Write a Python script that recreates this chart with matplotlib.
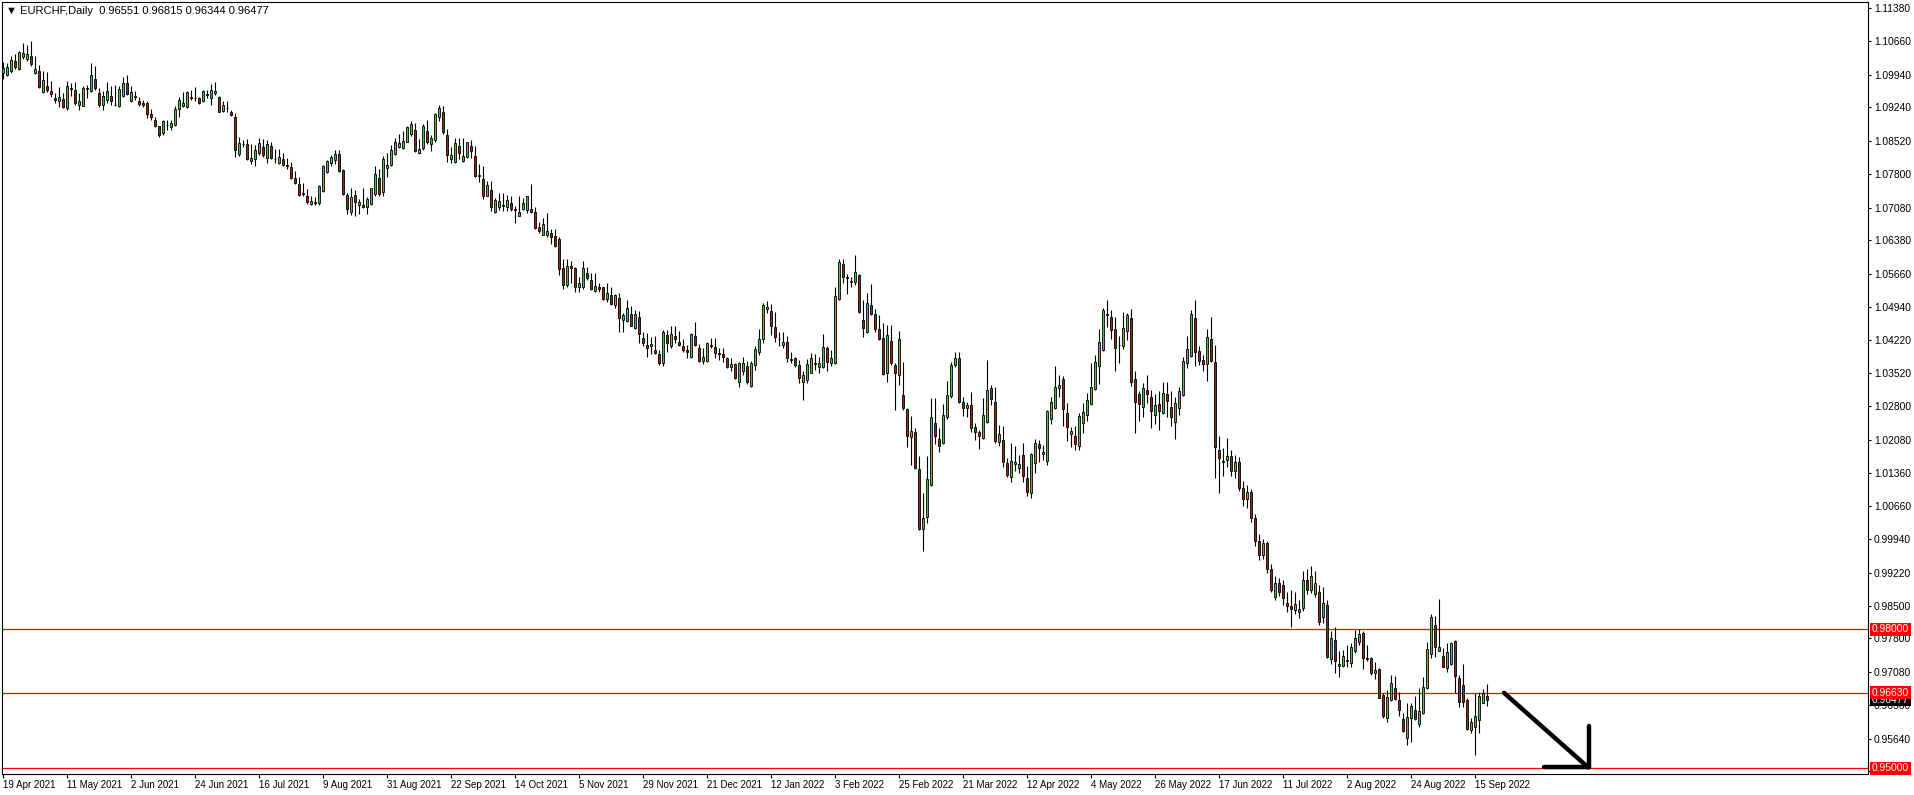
import numpy as np
import matplotlib.pyplot as plt
from matplotlib.transforms import blended_transform_factory

# EURCHF daily candles, 19 Apr 2021 .. 20 Sep 2022
opens = [
    1.0999, 1.0993, 1.1002, 1.1024, 1.1006, 1.1032, 1.1028, 1.1035, 1.0998, 1.1003,
    1.0957, 1.0970, 1.0960, 1.0945, 1.0937, 1.0942, 1.0922, 1.0963, 1.0961, 1.0930,
    1.0927, 1.0963, 1.0960, 1.0985, 1.0955, 1.0928, 1.0940, 1.0949, 1.0929, 1.0926,
    1.0949, 1.0976, 1.0938, 1.0948, 1.0938, 1.0934, 1.0934, 1.0909, 1.0897, 1.0884,
    1.0869, 1.0887, 1.0881, 1.0885, 1.0920, 1.0927, 1.0925, 1.0944, 1.0944, 1.0944,
    1.0937, 1.0952, 1.0944, 1.0954, 1.0947, 1.0916, 1.0923, 1.0914, 1.0903, 1.0823,
    1.0844, 1.0845, 1.0809, 1.0812, 1.0825, 1.0838, 1.0815, 1.0841, 1.0813, 1.0805,
    1.0812, 1.0800, 1.0796, 1.0772, 1.0759, 1.0739, 1.0733, 1.0716, 1.0721, 1.0717,
    1.0743, 1.0784, 1.0804, 1.0810, 1.0823, 1.0789, 1.0736, 1.0698, 1.0736, 1.0713,
    1.0714, 1.0709, 1.0716, 1.0738, 1.0772, 1.0741, 1.0794, 1.0799, 1.0823, 1.0838,
    1.0836, 1.0850, 1.0866, 1.0876, 1.0825, 1.0836, 1.0873, 1.0846, 1.0854, 1.0903,
    1.0914, 1.0865, 1.0812, 1.0806, 1.0841, 1.0809, 1.0817, 1.0841, 1.0820, 1.0778,
    1.0769, 1.0734, 1.0746, 1.0699, 1.0710, 1.0713, 1.0709, 1.0717, 1.0704, 1.0689,
    1.0705, 1.0703, 1.0706, 1.0698, 1.0666, 1.0650, 1.0648, 1.0653, 1.0647, 1.0640,
    1.0579, 1.0541, 1.0582, 1.0577, 1.0536, 1.0538, 1.0568, 1.0552, 1.0529, 1.0537,
    1.0536, 1.0511, 1.0520, 1.0498, 1.0513, 1.0467, 1.0463, 1.0479, 1.0449, 1.0472,
    1.0427, 1.0412, 1.0409, 1.0401, 1.0393, 1.0373, 1.0434, 1.0409, 1.0431, 1.0419,
    1.0410, 1.0401, 1.0387, 1.0431, 1.0405, 1.0378, 1.0378, 1.0411, 1.0407, 1.0394,
    1.0393, 1.0383, 1.0365, 1.0371, 1.0333, 1.0355, 1.0367, 1.0324, 1.0370, 1.0396,
    1.0426, 1.0489, 1.0485, 1.0450, 1.0426, 1.0413, 1.0418, 1.0381, 1.0385, 1.0369,
    1.0332, 1.0337, 1.0352, 1.0373, 1.0365, 1.0365, 1.0405, 1.0374, 1.0373, 1.0511,
    1.0587, 1.0558, 1.0549, 1.0547, 1.0563, 1.0467, 1.0439, 1.0498, 1.0478, 1.0446,
    1.0427, 1.0351, 1.0421, 1.0369, 1.0347, 1.0304, 1.0274, 1.0213, 1.0225, 1.0146,
    1.0016, 1.0041, 1.0110, 1.0245, 1.0209, 1.0200, 1.0256, 1.0303, 1.0368, 1.0383,
    1.0289, 1.0277, 1.0282, 1.0235, 1.0224, 1.0212, 1.0247, 1.0319, 1.0289, 1.0203,
    1.0208, 1.0157, 1.0127, 1.0155, 1.0147, 1.0175, 1.0125, 1.0093, 1.0157, 1.0199,
    1.0177, 1.0163, 1.0252, 1.0276, 1.0320, 1.0338, 1.0265, 1.0220, 1.0216, 1.0195,
    1.0243, 1.0261, 1.0284, 1.0317, 1.0367, 1.0401, 1.0478, 1.0472, 1.0447, 1.0413,
    1.0409, 1.0442, 1.0470, 1.0338, 1.0306, 1.0278, 1.0315, 1.0299, 1.0261, 1.0284,
    1.0265, 1.0306, 1.0278, 1.0247, 1.0276, 1.0304, 1.0373, 1.0389, 1.0470, 1.0399,
    1.0380, 1.0371, 1.0424, 1.0376, 1.0185, 1.0162, 1.0164, 1.0173, 1.0140, 1.0160,
    1.0105, 1.0080, 1.0095, 1.0040, 0.9990, 0.9960, 0.9985, 0.9930, 0.9870, 0.9900,
    0.9895, 0.9856, 0.9850, 0.9841, 0.9838, 0.9845, 0.9905, 0.9885, 0.9876, 0.9881,
    0.9826, 0.9853, 0.9735, 0.9777, 0.9721, 0.9721, 0.9733, 0.9728, 0.9754, 0.9772,
    0.9791, 0.9737, 0.9737, 0.9706, 0.9714, 0.9658, 0.9608, 0.9647, 0.9673, 0.9647,
    0.9606, 0.9565, 0.9608, 0.9626, 0.9595, 0.9619, 0.9673, 0.9747, 0.9810, 0.9752,
    0.9742, 0.9716, 0.9725, 0.9775, 0.9694, 0.9680, 0.9647, 0.9583, 0.9589, 0.9604,
    0.9642, 0.96551,
]
highs = [
    1.1021, 1.1019, 1.1035, 1.1039, 1.1046, 1.1062, 1.1059, 1.1067, 1.1034, 1.1016,
    1.1003, 1.1001, 1.0980, 1.0955, 1.0968, 1.0955, 1.0980, 1.0976, 1.0978, 1.0955,
    1.0969, 1.0973, 1.1019, 1.1013, 1.0965, 1.0960, 1.0978, 1.0969, 1.0972, 1.0971,
    1.0990, 1.0994, 1.0970, 1.0960, 1.0947, 1.0940, 1.0937, 1.0920, 1.0903, 1.0884,
    1.0897, 1.0897, 1.0897, 1.0927, 1.0947, 1.0957, 1.0960, 1.0962, 1.0968, 1.0947,
    1.0962, 1.0962, 1.0974, 1.0978, 1.0949, 1.0937, 1.0938, 1.0919, 1.0911, 1.0860,
    1.0854, 1.0856, 1.0845, 1.0842, 1.0859, 1.0855, 1.0854, 1.0850, 1.0835, 1.0834,
    1.0825, 1.0815, 1.0807, 1.0786, 1.0774, 1.0761, 1.0748, 1.0732, 1.0731, 1.0757,
    1.0799, 1.0811, 1.0822, 1.0833, 1.0833, 1.0792, 1.0739, 1.0750, 1.0746, 1.0727,
    1.0750, 1.0730, 1.0751, 1.0798, 1.0792, 1.0820, 1.0825, 1.0843, 1.0858, 1.0866,
    1.0873, 1.0883, 1.0895, 1.0890, 1.0856, 1.0888, 1.0897, 1.0865, 1.0911, 1.0929,
    1.0927, 1.0878, 1.0839, 1.0858, 1.0858, 1.0858, 1.0850, 1.0854, 1.0841, 1.0802,
    1.0797, 1.0766, 1.0766, 1.0728, 1.0739, 1.0739, 1.0735, 1.0733, 1.0712, 1.0732,
    1.0728, 1.0733, 1.0759, 1.0710, 1.0678, 1.0685, 1.0696, 1.0663, 1.0663, 1.0645,
    1.0597, 1.0597, 1.0593, 1.0581, 1.0559, 1.0592, 1.0581, 1.0567, 1.0568, 1.0545,
    1.0537, 1.0545, 1.0538, 1.0521, 1.0524, 1.0482, 1.0508, 1.0497, 1.0488, 1.0485,
    1.0440, 1.0437, 1.0430, 1.0431, 1.0401, 1.0444, 1.0444, 1.0452, 1.0452, 1.0443,
    1.0425, 1.0412, 1.0437, 1.0461, 1.0414, 1.0405, 1.0419, 1.0427, 1.0427, 1.0405,
    1.0405, 1.0386, 1.0383, 1.0374, 1.0376, 1.0387, 1.0378, 1.0378, 1.0409, 1.0447,
    1.0502, 1.0507, 1.0500, 1.0483, 1.0441, 1.0439, 1.0431, 1.0398, 1.0387, 1.0380,
    1.0355, 1.0381, 1.0394, 1.0393, 1.0386, 1.0436, 1.0409, 1.0401, 1.0538, 1.0597,
    1.0597, 1.0566, 1.0559, 1.0606, 1.0566, 1.0509, 1.0525, 1.0543, 1.0489, 1.0477,
    1.0460, 1.0455, 1.0455, 1.0373, 1.0442, 1.0375, 1.0276, 1.0259, 1.0233, 1.0172,
    1.0094, 1.0173, 1.0298, 1.0298, 1.0233, 1.0285, 1.0335, 1.0376, 1.0396, 1.0396,
    1.0301, 1.0290, 1.0310, 1.0245, 1.0229, 1.0297, 1.0380, 1.0326, 1.0322, 1.0240,
    1.0238, 1.0168, 1.0200, 1.0195, 1.0175, 1.0200, 1.0152, 1.0180, 1.0210, 1.0208,
    1.0197, 1.0272, 1.0299, 1.0367, 1.0347, 1.0345, 1.0287, 1.0236, 1.0238, 1.0265,
    1.0287, 1.0308, 1.0374, 1.0391, 1.0447, 1.0491, 1.0509, 1.0488, 1.0472, 1.0432,
    1.0483, 1.0482, 1.0490, 1.0356, 1.0312, 1.0330, 1.0347, 1.0315, 1.0307, 1.0313,
    1.0332, 1.0332, 1.0313, 1.0301, 1.0322, 1.0387, 1.0432, 1.0488, 1.0509, 1.0410,
    1.0391, 1.0447, 1.0472, 1.0412, 1.0217, 1.0190, 1.0211, 1.0185, 1.0175, 1.0170,
    1.0120, 1.0110, 1.0102, 1.0048, 1.0005, 0.9995, 0.9990, 0.9940, 0.9915, 0.9910,
    0.9905, 0.9881, 0.9884, 0.9881, 0.9863, 0.9925, 0.9930, 0.9935, 0.9925, 0.9895,
    0.9890, 0.9863, 0.9796, 0.9804, 0.9753, 0.9755, 0.9766, 0.9771, 0.9798, 0.9800,
    0.9795, 0.9766, 0.9741, 0.9730, 0.9717, 0.9662, 0.9669, 0.9701, 0.9699, 0.9665,
    0.9619, 0.9640, 0.9642, 0.9655, 0.9673, 0.9696, 0.9773, 0.9833, 0.9829, 0.9865,
    0.9759, 0.9770, 0.9773, 0.9777, 0.9701, 0.9726, 0.9651, 0.9608, 0.9662, 0.9665,
    0.9671, 0.96815,
]
lows = [
    1.0985, 1.0992, 1.0998, 1.1006, 1.1005, 1.1028, 1.1024, 1.1014, 1.0996, 1.0965,
    1.0955, 1.0957, 1.0947, 1.0934, 1.0924, 1.0922, 1.0919, 1.0949, 1.0929, 1.0919,
    1.0926, 1.0944, 1.0958, 1.0962, 1.0924, 1.0919, 1.0933, 1.0929, 1.0927, 1.0924,
    1.0947, 1.0950, 1.0936, 1.0939, 1.0927, 1.0924, 1.0901, 1.0897, 1.0881, 1.0861,
    1.0864, 1.0876, 1.0876, 1.0883, 1.0904, 1.0924, 1.0922, 1.0940, 1.0938, 1.0932,
    1.0935, 1.0944, 1.0929, 1.0950, 1.0913, 1.0913, 1.0915, 1.0906, 1.0816, 1.0820,
    1.0838, 1.0811, 1.0802, 1.0797, 1.0822, 1.0817, 1.0805, 1.0812, 1.0805, 1.0803,
    1.0798, 1.0792, 1.0769, 1.0759, 1.0733, 1.0732, 1.0716, 1.0713, 1.0714, 1.0714,
    1.0741, 1.0782, 1.0797, 1.0803, 1.0784, 1.0736, 1.0694, 1.0693, 1.0689, 1.0694,
    1.0708, 1.0694, 1.0714, 1.0733, 1.0734, 1.0732, 1.0775, 1.0797, 1.0822, 1.0836,
    1.0835, 1.0849, 1.0863, 1.0828, 1.0824, 1.0833, 1.0846, 1.0831, 1.0850, 1.0895,
    1.0866, 1.0807, 1.0805, 1.0804, 1.0812, 1.0807, 1.0815, 1.0815, 1.0774, 1.0764,
    1.0726, 1.0732, 1.0700, 1.0696, 1.0703, 1.0701, 1.0701, 1.0701, 1.0674, 1.0689,
    1.0703, 1.0696, 1.0696, 1.0662, 1.0653, 1.0649, 1.0645, 1.0629, 1.0624, 1.0563,
    1.0533, 1.0538, 1.0545, 1.0527, 1.0527, 1.0532, 1.0552, 1.0531, 1.0527, 1.0527,
    1.0508, 1.0505, 1.0498, 1.0491, 1.0441, 1.0441, 1.0462, 1.0452, 1.0447, 1.0417,
    1.0409, 1.0386, 1.0393, 1.0393, 1.0369, 1.0366, 1.0398, 1.0405, 1.0416, 1.0409,
    1.0398, 1.0383, 1.0385, 1.0409, 1.0376, 1.0371, 1.0376, 1.0405, 1.0383, 1.0380,
    1.0376, 1.0362, 1.0357, 1.0338, 1.0321, 1.0347, 1.0328, 1.0322, 1.0358, 1.0390,
    1.0417, 1.0480, 1.0434, 1.0419, 1.0410, 1.0406, 1.0375, 1.0373, 1.0365, 1.0330,
    1.0294, 1.0331, 1.0351, 1.0358, 1.0352, 1.0362, 1.0357, 1.0367, 1.0371, 1.0508,
    1.0545, 1.0523, 1.0538, 1.0541, 1.0480, 1.0430, 1.0437, 1.0477, 1.0441, 1.0423,
    1.0348, 1.0333, 1.0369, 1.0272, 1.0326, 1.0272, 1.0193, 1.0154, 1.0144, 1.0014,
    0.9969, 1.0029, 1.0108, 1.0199, 1.0181, 1.0198, 1.0253, 1.0297, 1.0365, 1.0288,
    1.0259, 1.0258, 1.0224, 1.0207, 1.0188, 1.0210, 1.0245, 1.0283, 1.0202, 1.0195,
    1.0150, 1.0127, 1.0118, 1.0141, 1.0136, 1.0118, 1.0086, 1.0083, 1.0136, 1.0161,
    1.0164, 1.0154, 1.0242, 1.0274, 1.0301, 1.0238, 1.0206, 1.0193, 1.0185, 1.0185,
    1.0223, 1.0249, 1.0283, 1.0315, 1.0327, 1.0399, 1.0450, 1.0426, 1.0357, 1.0374,
    1.0403, 1.0423, 1.0324, 1.0223, 1.0249, 1.0258, 1.0287, 1.0234, 1.0241, 1.0228,
    1.0263, 1.0258, 1.0238, 1.0210, 1.0261, 1.0303, 1.0363, 1.0387, 1.0367, 1.0369,
    1.0357, 1.0335, 1.0376, 1.0125, 1.0094, 1.0130, 1.0150, 1.0130, 1.0125, 1.0098,
    1.0065, 1.0060, 1.0030, 0.9980, 0.9950, 0.9952, 0.9922, 0.9880, 0.9862, 0.9872,
    0.9852, 0.9836, 0.9804, 0.9833, 0.9823, 0.9840, 0.9875, 0.9878, 0.9870, 0.9809,
    0.9814, 0.9737, 0.9726, 0.9706, 0.9698, 0.9718, 0.9719, 0.9719, 0.9749, 0.9766,
    0.9714, 0.9732, 0.9701, 0.9693, 0.9651, 0.9608, 0.9601, 0.9645, 0.9647, 0.9612,
    0.9579, 0.9551, 0.9558, 0.9604, 0.9590, 0.9617, 0.9671, 0.9737, 0.9741, 0.9752,
    0.9718, 0.9708, 0.9723, 0.9662, 0.9632, 0.9632, 0.9583, 0.9576, 0.9529, 0.9576,
    0.9640, 0.96344,
]
closes = [
    1.1008, 1.1011, 1.1026, 1.1011, 1.1043, 1.1041, 1.1039, 1.1017, 1.1006, 1.0968,
    1.0983, 1.0962, 1.0952, 1.0939, 1.0947, 1.0924, 1.0969, 1.0966, 1.0933, 1.0938,
    1.0965, 1.0965, 1.0993, 1.0965, 1.0928, 1.0949, 1.0959, 1.0937, 1.0928, 1.0964,
    1.0976, 1.0952, 1.0957, 1.0947, 1.0931, 1.0929, 1.0909, 1.0903, 1.0884, 1.0864,
    1.0894, 1.0886, 1.0890, 1.0921, 1.0939, 1.0934, 1.0957, 1.0947, 1.0945, 1.0934,
    1.0959, 1.0951, 1.0962, 1.0960, 1.0914, 1.0929, 1.0922, 1.0907, 1.0832, 1.0847,
    1.0845, 1.0812, 1.0814, 1.0832, 1.0847, 1.0822, 1.0845, 1.0815, 1.0812, 1.0817,
    1.0800, 1.0797, 1.0772, 1.0762, 1.0736, 1.0738, 1.0720, 1.0723, 1.0719, 1.0755,
    1.0798, 1.0809, 1.0816, 1.0823, 1.0786, 1.0737, 1.0705, 1.0731, 1.0720, 1.0721,
    1.0709, 1.0727, 1.0750, 1.0781, 1.0738, 1.0813, 1.0800, 1.0832, 1.0849, 1.0848,
    1.0852, 1.0882, 1.0889, 1.0829, 1.0835, 1.0884, 1.0850, 1.0859, 1.0909, 1.0922,
    1.0871, 1.0821, 1.0822, 1.0847, 1.0825, 1.0820, 1.0849, 1.0829, 1.0776, 1.0777,
    1.0734, 1.0757, 1.0709, 1.0724, 1.0722, 1.0711, 1.0724, 1.0705, 1.0702, 1.0699,
    1.0717, 1.0732, 1.0698, 1.0665, 1.0658, 1.0672, 1.0658, 1.0644, 1.0625, 1.0575,
    1.0541, 1.0582, 1.0577, 1.0536, 1.0545, 1.0579, 1.0557, 1.0532, 1.0539, 1.0532,
    1.0511, 1.0524, 1.0500, 1.0520, 1.0470, 1.0476, 1.0492, 1.0454, 1.0478, 1.0435,
    1.0416, 1.0406, 1.0414, 1.0394, 1.0373, 1.0439, 1.0416, 1.0435, 1.0426, 1.0412,
    1.0401, 1.0398, 1.0436, 1.0411, 1.0378, 1.0387, 1.0416, 1.0409, 1.0394, 1.0392,
    1.0387, 1.0365, 1.0372, 1.0340, 1.0374, 1.0374, 1.0332, 1.0373, 1.0403, 1.0426,
    1.0498, 1.0493, 1.0452, 1.0430, 1.0425, 1.0418, 1.0385, 1.0380, 1.0368, 1.0340,
    1.0347, 1.0371, 1.0383, 1.0371, 1.0373, 1.0407, 1.0376, 1.0383, 1.0518, 1.0590,
    1.0559, 1.0556, 1.0548, 1.0569, 1.0484, 1.0448, 1.0502, 1.0479, 1.0447, 1.0426,
    1.0349, 1.0433, 1.0374, 1.0352, 1.0426, 1.0277, 1.0215, 1.0226, 1.0147, 1.0016,
    1.0039, 1.0123, 1.0256, 1.0217, 1.0195, 1.0261, 1.0304, 1.0370, 1.0385, 1.0290,
    1.0277, 1.0283, 1.0233, 1.0224, 1.0215, 1.0261, 1.0315, 1.0295, 1.0206, 1.0220,
    1.0159, 1.0131, 1.0163, 1.0159, 1.0155, 1.0130, 1.0095, 1.0177, 1.0200, 1.0190,
    1.0182, 1.0270, 1.0289, 1.0321, 1.0326, 1.0274, 1.0235, 1.0227, 1.0198, 1.0259,
    1.0267, 1.0294, 1.0321, 1.0376, 1.0418, 1.0488, 1.0477, 1.0444, 1.0405, 1.0411,
    1.0448, 1.0477, 1.0333, 1.0290, 1.0284, 1.0319, 1.0306, 1.0269, 1.0282, 1.0269,
    1.0309, 1.0291, 1.0256, 1.0287, 1.0313, 1.0378, 1.0403, 1.0478, 1.0398, 1.0378,
    1.0371, 1.0429, 1.0378, 1.0193, 1.0169, 1.0160, 1.0173, 1.0140, 1.0160, 1.0105,
    1.0080, 1.0095, 1.0040, 0.9990, 0.9960, 0.9985, 0.9930, 0.9885, 0.9900, 0.9880,
    0.9868, 0.9849, 0.9843, 0.9854, 0.9843, 0.9905, 0.9885, 0.9915, 0.9900, 0.9815,
    0.9856, 0.9741, 0.9782, 0.9732, 0.9726, 0.9742, 0.9731, 0.9762, 0.9782, 0.9790,
    0.9737, 0.9735, 0.9705, 0.9712, 0.9652, 0.9612, 0.9653, 0.9683, 0.9649, 0.9626,
    0.9581, 0.9610, 0.9634, 0.9606, 0.9624, 0.9676, 0.9757, 0.9826, 0.9761, 0.9761,
    0.9719, 0.9750, 0.9770, 0.9700, 0.9644, 0.9644, 0.9586, 0.9601, 0.9612, 0.9655,
    0.9662, 0.96477,
]

date_labels = ["19 Apr 2021", "11 May 2021", "2 Jun 2021", "24 Jun 2021", "16 Jul 2021",
               "9 Aug 2021", "31 Aug 2021", "22 Sep 2021", "14 Oct 2021", "5 Nov 2021",
               "29 Nov 2021", "21 Dec 2021", "12 Jan 2022", "3 Feb 2022", "25 Feb 2022",
               "21 Mar 2022", "12 Apr 2022", "4 May 2022", "26 May 2022", "17 Jun 2022",
               "11 Jul 2022", "2 Aug 2022", "24 Aug 2022", "15 Sep 2022"]
bars_per_label = 16

price_ticks = [1.11380, 1.10660, 1.09940, 1.09240, 1.08520, 1.07800, 1.07080, 1.06380,
               1.05660, 1.04940, 1.04220, 1.03520, 1.02800, 1.02080, 1.01360, 1.00660,
               0.99940, 0.99220, 0.98500, 0.97800, 0.97080, 0.96360, 0.95640, 0.94940]

levels = [0.98000, 0.96630, 0.95000]

# hand-drawn arrow (bar index, price)
arrow_diag_x = [375.25, 396.3]
arrow_diag_y = [0.96628, 0.95022]
arrow_vert_x = [396.6, 396.6]
arrow_vert_y = [0.95918, 0.95022]
arrow_horz_x = [385.25, 396.6]
arrow_horz_y = [0.95022, 0.95022]

header = "\u25bc EURCHF,Daily  0.96551 0.96815 0.96344 0.96477"

plt.rcParams['font.family'] = ['Liberation Sans', 'DejaVu Sans']

fig = plt.figure(figsize=(19.14, 7.95), dpi=100)
ax = fig.add_axes([2 / 1914, 21 / 795, 1866 / 1914, 772 / 795])

o = np.array(opens)
h = np.array(highs)
l = np.array(lows)
c = np.array(closes)
x = np.arange(len(o))
up = c >= o

# wicks then bodies
ax.vlines(x, l, h, color='black', linewidth=0.8, zorder=2)
bottom = np.minimum(o, c)
height = np.maximum(np.abs(c - o), 0.00002)
ax.bar(x[up], height[up], bottom=bottom[up], width=0.68, color='#35cc35',
       edgecolor='black', linewidth=0.6, zorder=3)
ax.bar(x[~up], height[~up], bottom=bottom[~up], width=0.68, color='#e00000',
       edgecolor='black', linewidth=0.6, zorder=3)

# horizontal levels
for v in levels:
    ax.axhline(v, color='#ff0000', linewidth=0.9, zorder=1)

# arrow annotation
for ax_x, ax_y in [(arrow_diag_x, arrow_diag_y), (arrow_vert_x, arrow_vert_y),
                   (arrow_horz_x, arrow_horz_y)]:
    ax.plot(ax_x, ax_y, color='black', linewidth=3.2, solid_capstyle='round', zorder=4)

ax.set_xlim(-0.25, 466.25)
ax.set_ylim(0.94880, 1.11509)

# right price axis
ax.yaxis.tick_right()
ax.set_yticks(price_ticks)
ax.set_yticklabels([f"{v:.5f}" for v in price_ticks])
ax.tick_params(axis='y', direction='out', length=2.2, width=0.8, pad=2,
               labelsize=7.4, colors='black')

# bottom date axis
ax.set_xticks([i * bars_per_label for i in range(len(date_labels))])
ax.set_xticklabels(date_labels)
for lab in ax.get_xticklabels():
    lab.set_horizontalalignment('left')
ax.tick_params(axis='x', direction='out', length=3.2, width=0.8, pad=0.8,
               labelsize=7, colors='black')

for sp in ax.spines.values():
    sp.set_linewidth(0.8)
    sp.set_color('black')

# price boxes on the right scale
tr = blended_transform_factory(ax.transAxes, ax.transData)
ax.text(1.0 + 4 / 1866, closes[-1], f"{closes[-1]:.5f}", transform=tr, ha='left',
        va='center', fontsize=7.4, color='white', clip_on=False, zorder=10,
        bbox=dict(boxstyle='square,pad=0.15', fc='black', ec='none'))
for v in levels:
    ax.text(1.0 + 4 / 1866, v, f"{v:.5f}", transform=tr, ha='left', va='center',
            fontsize=7.4, color='white', clip_on=False, zorder=11,
            bbox=dict(boxstyle='square,pad=0.15', fc='#ff0000', ec='none'))

fig.text(6 / 1914, 1 - 11 / 795, header, fontsize=8, ha='left', va='center', color='black')

fig.savefig('out.png', dpi=100)
